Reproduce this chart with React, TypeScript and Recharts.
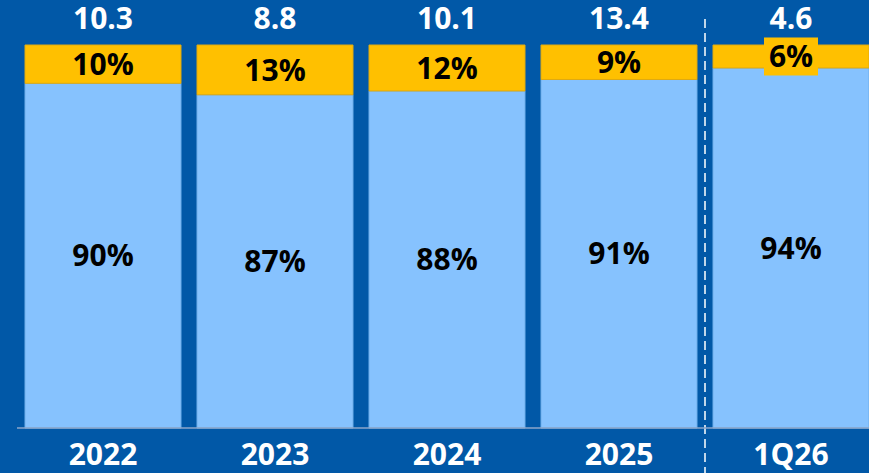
import React from 'react';
import { BarChart, Bar, XAxis, YAxis, LabelList, ReferenceLine } from 'recharts';

const categories = ['2022', '2023', '2024', '2025', '1Q26'];
const totals = [10.3, 8.8, 10.1, 13.4, 4.6];
const lowerShare = [90, 87, 88, 91, 94];
const upperShare = [10, 13, 12, 9, 6];

const data = categories.map((name, i) => ({
  name,
  total: totals[i].toFixed(1),
  lower: lowerShare[i],
  upper: upperShare[i],
}));

const BG = '#0158A7';
const LIGHT = '#86C2FE';
const YELLOW = '#FFC000';
const FONT = '"Open Sans", sans-serif';

const pct = (v: any) => `${v}%`;

// last yellow label gets a yellow box behind it since the segment is too thin
function UpperLabel(props: any) {
  const { viewBox, value, index } = props;
  if (!viewBox) return null;
  const cx = viewBox.x + viewBox.width / 2;
  const cy = viewBox.y + viewBox.height / 2;
  return (
    <g>
      {index === categories.length - 1 && (
        <rect x={cx - 27} y={cy - 19} width={54} height={38} fill={YELLOW} />
      )}
      <text
        x={cx}
        y={cy}
        dy="0.355em"
        textAnchor="middle"
        fill="#000"
        fontFamily={FONT}
        fontWeight={700}
        fontSize={30}
      >
        {pct(value)}
      </text>
    </g>
  );
}

// dashed divider runs past the plot area: from above the bars down through the axis labels
function DividerLine(props: any) {
  const { x1, y1, y2 } = props;
  const top = Math.min(y1, y2);
  const bottom = Math.max(y1, y2);
  return (
    <line
      x1={x1}
      x2={x1}
      y1={top - 26}
      y2={bottom + 45}
      stroke="#ffffff"
      strokeWidth={1.5}
      strokeDasharray="9 5"
    />
  );
}

export default function App() {
  return (
    <div
      style={{
        position: 'fixed',
        left: 0,
        top: 0,
        width: 869,
        height: 473,
        overflow: 'hidden',
        background: BG,
      }}
    >
      <BarChart
        width={877}
        height={473}
        data={data}
        margin={{ top: 45, right: 0, left: 17, bottom: 0 }}
        barCategoryGap={8}
      >
        <XAxis
          dataKey="name"
          height={45}
          tickLine={false}
          tickMargin={10}
          axisLine={{ stroke: '#8CA6CA', strokeWidth: 1.5 }}
          tick={{ fill: '#ffffff', fontFamily: FONT, fontWeight: 700, fontSize: 30 }}
          interval={0}
        />
        <YAxis hide domain={[0, 100]} />
        <Bar dataKey="lower" stackId="a" fill={LIGHT} stroke="#6FAEEA" strokeWidth={1} isAnimationActive={false}>
          <LabelList
            dataKey="lower"
            position="center"
            formatter={pct}
            fill="#000"
            style={{ fontFamily: FONT, fontWeight: 700, fontSize: 30 }}
          />
        </Bar>
        <Bar dataKey="upper" stackId="a" fill={YELLOW} stroke="#E0AA10" strokeWidth={1} isAnimationActive={false}>
          <LabelList dataKey="upper" content={<UpperLabel />} />
          <LabelList
            dataKey="total"
            position="top"
            offset={16}
            fill="#ffffff"
            style={{ fontFamily: FONT, fontWeight: 700, fontSize: 30 }}
          />
        </Bar>
        <ReferenceLine x="1Q26" position="start" shape={<DividerLine />} ifOverflow="visible" />
      </BarChart>
    </div>
  );
}
